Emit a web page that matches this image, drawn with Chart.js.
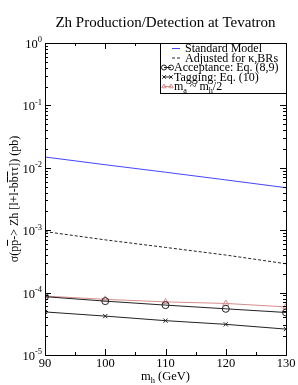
<!DOCTYPE html>
<html>
<head>
<meta charset="utf-8">
<script src="https://cdn.jsdelivr.net/npm/chart.js@4.4.1/dist/chart.umd.min.js"></script>
<style>
  html, body { margin: 0; padding: 0; background: #fff; }
  canvas { display: block; }
</style>
</head>
<body>
<canvas id="zh-chart" width="298" height="385"></canvas>
<script>
// Higgs masses (GeV)
var masses = [90, 100, 110, 120, 130];
// cross sections in pb
var smXsec = [0.0149, 0.0112, 0.0085, 0.0064, 0.0048];
var adjustedXsec = [0.00095, 0.00070, 0.00053, 0.00040, 0.00029];
var acceptXsec = [8.6e-5, 7.3e-5, 6.3e-5, 5.5e-5, 4.8e-5];
var taggingXsec = [4.9e-5, 4.2e-5, 3.55e-5, 3.1e-5, 2.6e-5];
var maHalfXsec = [8.8e-5, 7.8e-5, 7.1e-5, 6.7e-5, 5.9e-5];

var xTicks = [90, 100, 110, 120, 130];
var yExponents = [0, -1, -2, -3, -4, -5];

var seriesNames = ['Standard Model', 'Adjusted for \u03ba,BRs', 'Acceptance: Eq. (8,9)', 'Tagging: Eq. (10)', 'm_a ~ m_h/2'];

var SERIF = '"Liberation Serif", "Times New Roman", serif';

function toPoints(vals){
    return masses.map(function(m, i){ return {x: m, y: vals[i]}; });
}

// text with sub/superscripts; parts: [text, mode] mode 0 normal, 1 sup, -1 sub
function drawRich(ctx, parts, x, y, size, align){
    var w = 0;
    parts.forEach(function(p){
        ctx.font = (p[1] ? size * 0.68 : size) + 'px ' + SERIF;
        w += ctx.measureText(p[0]).width;
    });
    var cx = align === 'right' ? x - w : (align === 'center' ? x - w / 2 : x);
    ctx.textBaseline = 'alphabetic';
    ctx.textAlign = 'left';
    parts.forEach(function(p){
        ctx.font = (p[1] ? size * 0.68 : size) + 'px ' + SERIF;
        var dy = p[1] === 1 ? -size * 0.45 : (p[1] === -1 ? size * 0.25 : 0);
        ctx.fillText(p[0], cx, y + dy);
        cx += ctx.measureText(p[0]).width;
    });
}

var gracePlugin = {
    id: 'grace',
    afterDraw: function(chart){
        var ctx = chart.ctx;
        var a = chart.chartArea;
        var xs = chart.scales.x, ys = chart.scales.y;
        ctx.save();
        ctx.strokeStyle = '#000';
        ctx.fillStyle = '#000';
        ctx.lineWidth = 1;

        // frame
        ctx.strokeRect(Math.round(a.left) + 0.5, Math.round(a.top) + 0.5,
            Math.round(a.right - a.left), Math.round(a.bottom - a.top));

        // x ticks (inward, top and bottom)
        for (var v = 90; v <= 130; v += 5){
            var px = Math.round(xs.getPixelForValue(v)) + 0.5;
            var len = (v % 10 === 0) ? 6 : 3;
            ctx.beginPath();
            ctx.moveTo(px, a.bottom); ctx.lineTo(px, a.bottom - len);
            ctx.moveTo(px, a.top); ctx.lineTo(px, a.top + len);
            ctx.stroke();
        }
        // y ticks (log, inward, left and right)
        for (var e = -5; e < 0; e++){
            for (var k = 1; k <= 10; k++){
                var val = k * Math.pow(10, e);
                var py = Math.round(ys.getPixelForValue(val)) + 0.5;
                var l = (k === 1 || k === 10) ? 6 : 3;
                ctx.beginPath();
                ctx.moveTo(a.left, py); ctx.lineTo(a.left + l, py);
                ctx.moveTo(a.right, py); ctx.lineTo(a.right - l, py);
                ctx.stroke();
            }
        }

        // tick labels
        xTicks.forEach(function(t){
            drawRich(ctx, [[String(t), 0]], xs.getPixelForValue(t), 367, 12.5, 'center');
        });
        yExponents.forEach(function(ex){
            drawRich(ctx, [['10', 0], [String(ex), 1]], a.left - 3, ys.getPixelForValue(Math.pow(10, ex)) + 5, 12.5, 'right');
        });

        // axis titles
        drawRich(ctx, [['m', 0], ['h', -1], [' (GeV)', 0]], (a.left + a.right) / 2, 380, 12.5, 'center');

        ctx.save();
        ctx.translate(18, (a.top + a.bottom) / 2);
        ctx.rotate(-Math.PI / 2);
        var segs = [['\u03c3(p', 0], ['p', 1], ['-> Zh [l+l-b', 0], ['b', 1], ['\u03c4', 1], ['\u03c4]) (pb)', 0]];
        ctx.font = '12px ' + SERIF;
        var tw = 0;
        segs.forEach(function(s){ tw += ctx.measureText(s[0]).width; });
        var sx = -tw / 2;
        ctx.textAlign = 'left';
        ctx.textBaseline = 'alphabetic';
        segs.forEach(function(s){
            var w = ctx.measureText(s[0]).width;
            ctx.fillText(s[0], sx, 0);
            if (s[1]){
                ctx.beginPath();
                ctx.moveTo(sx, -10.5); ctx.lineTo(sx + w, -10.5);
                ctx.stroke();
            }
            sx += w;
        });
        ctx.restore();

        // title
        ctx.font = '15px ' + SERIF;
        ctx.textAlign = 'center';
        ctx.textBaseline = 'alphabetic';
        ctx.fillText('Zh Production/Detection at Tevatron', (a.left + a.right) / 2, 27);

        // legend box
        var bx = 160.5, by = Math.round(a.top) + 0.5, bw = Math.round(a.right) - 160, bh = 50;
        ctx.fillStyle = '#fff';
        ctx.fillRect(bx, by, bw, bh);
        ctx.strokeRect(bx, by, bw, bh);
        ctx.fillStyle = '#000';
        var ds = chart.data.datasets;
        var rowY = [48.5, 58, 67.5, 77, 86.5];
        [0, 1, 2, 3, 4].forEach(function(i){
            var d = ds[i];
            var y = rowY[i];
            var hasMark = d.pointRadius > 0;
            var x0 = hasMark ? 164 : 172, x1 = hasMark ? 171 : 180;
            ctx.save();
            ctx.strokeStyle = d.borderColor;
            ctx.lineWidth = 1;
            ctx.setLineDash(d.borderDash || []);
            ctx.beginPath();
            ctx.moveTo(x0, y); ctx.lineTo(x1, y);
            ctx.stroke();
            ctx.setLineDash([]);
            if (hasMark){
                var opts = {pointStyle: d.pointStyle, radius: 2.5, borderWidth: 1, rotation: 0};
                ctx.fillStyle = 'rgba(0,0,0,0)';
                Chart.helpers.drawPoint(ctx, opts, x0, y);
                Chart.helpers.drawPoint(ctx, opts, x1, y);
            }
            ctx.restore();
            ctx.fillStyle = '#000';
            var tx = hasMark ? 174 : 185;
            if (i === 4){
                drawRich(ctx, [['m', 0], ['a', -1], [' ~ m', 0], ['h', -1], ['/2', 0]], tx, y + 3.5, 12, 'left');
            } else {
                drawRich(ctx, [[seriesNames[i], 0]], tx, y + 3.5, 12, 'left');
            }
        });
        ctx.restore();
    }
};

new Chart(document.getElementById('zh-chart'), {
    type: 'line',
    data: {
        datasets: [
            {
                label: seriesNames[0],
                data: toPoints(smXsec),
                borderColor: '#4545ff',
                borderWidth: 1,
                pointRadius: 0
            },
            {
                label: seriesNames[1],
                data: toPoints(adjustedXsec),
                borderColor: '#222',
                borderWidth: 1,
                borderDash: [3, 2],
                pointRadius: 0
            },
            {
                label: seriesNames[2],
                data: toPoints(acceptXsec),
                borderColor: '#222',
                borderWidth: 1,
                pointStyle: 'circle',
                pointRadius: 3.5,
                pointBorderWidth: 1,
                pointBackgroundColor: 'rgba(0,0,0,0)',
                order: 1
            },
            {
                label: seriesNames[3],
                data: toPoints(taggingXsec),
                borderColor: '#222',
                borderWidth: 1,
                pointStyle: 'crossRot',
                pointRadius: 3,
                pointBorderWidth: 1
            },
            {
                label: seriesNames[4],
                data: toPoints(maHalfXsec),
                borderColor: '#d88c8c',
                borderWidth: 1,
                pointStyle: 'triangle',
                pointRadius: 3.5,
                pointBorderWidth: 1,
                pointBackgroundColor: 'rgba(0,0,0,0)',
                order: 2
            }
        ]
    },
    options: {
        responsive: false,
        devicePixelRatio: 1,
        animation: false,
        layout: { padding: { left: 45, top: 43, right: 12, bottom: 30 } },
        plugins: {
            legend: { display: false },
            tooltip: { enabled: false }
        },
        scales: {
            x: { type: 'linear', min: 90, max: 130, display: false },
            y: { type: 'logarithmic', min: 1e-5, max: 1, display: false }
        }
    },
    plugins: [gracePlugin]
});
</script>
</body>
</html>
